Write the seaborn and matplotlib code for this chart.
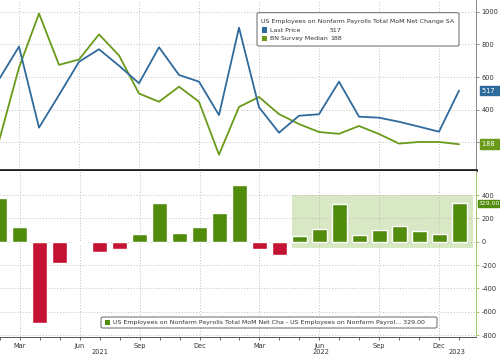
import numpy as np
import pandas as pd
import matplotlib
matplotlib.use("Agg")
import matplotlib.pyplot as plt
import matplotlib.transforms as mtransforms
from matplotlib.patches import FancyBboxPatch, Rectangle
from matplotlib import font_manager
import seaborn as sns

# ---------------- data ----------------
months = ["2021-02", "2021-03", "2021-04", "2021-05", "2021-06", "2021-07",
          "2021-08", "2021-09", "2021-10", "2021-11", "2021-12", "2022-01",
          "2022-02", "2022-03", "2022-04", "2022-05", "2022-06", "2022-07",
          "2022-08", "2022-09", "2022-10", "2022-11", "2022-12", "2023-01"]
last_price = [586, 787, 290, 490, 694, 771, 670, 562, 783, 613, 572, 367,
              903, 415, 259, 363, 372, 572, 357, 351, 326, 296, 265, 517]
survey_median = [208, 658, 990, 675, 708, 862, 733, 499, 449, 541, 449, 124,
                 417, 478, 373, 312, 263, 252, 300, 251, 192, 202, 202, 188]
net_diff = [378, 129, -700, -185, -14, -91, -63, 63, 334, 72, 123, 243,
            486, -63, -114, 51, 109, 320, 57, 100, 134, 94, 63, 329]
month_tick_labels = ["Mar", "Jun", "Sep", "Dec", "Mar", "Jun", "Sep", "Dec"]
month_tick_keys = ["2021-03", "2021-06", "2021-09", "2021-12",
                   "2022-03", "2022-06", "2022-09", "2022-12"]
year_labels = ["2021", "2022", "2023"]
top_ticks = [200, 400, 600, 800, 1000]
top_tick_labels = ["", "400", "600", "800", "1000"]   # 200 hidden behind the 188 tag
bottom_ticks = [-800, -600, -400, -200, 0, 200, 400]

legend_title = "US Employees on Nonfarm Payrolls Total MoM Net Change SA"
series_names = ["Last Price", "BN Survey Median"]
bar_legend = ("US Employees on Nonfarm Payrolls Total MoM Net Cha - "
              "US Employees on Nonfarm Payrol... 329.00")

# ---------------- style ----------------
sns.set_theme(style="white")
avail = {f.name for f in font_manager.fontManager.ttflist}
if "Liberation Sans Narrow" in avail:
    FAM = ["Liberation Sans Narrow", "DejaVu Sans"]
    FS = 5.6
    LFS = 5.3
else:
    FAM = ["DejaVu Sans"]
    FS = 4.8
    LFS = 4.5
plt.rcParams["font.family"] = FAM

BLUE = "#2f6a9c"
GREEN_LINE = "#6a9a1a"
GREEN_BAR = "#518b0c"
RED_BAR = "#c41232"
LIGHT = "#d9e8c4"
GRID = "#b8b8b8"
TXT = "#333333"

W, H = 500, 355
fig = plt.figure(figsize=(W / 100, H / 100), dpi=100)
fig.patch.set_facecolor("white")

def fx(px):
    return px / W

def fy(py):
    return 1 - py / H

ax_top = fig.add_axes([0, fy(170), fx(476), fy(0) - fy(170)])
ax_bot = fig.add_axes([0, fy(337), fx(476), fy(171) - fy(337)])

df = pd.DataFrame({"month": months, "pos": np.arange(len(months)),
                   "last": last_price, "survey": survey_median,
                   "diff": net_diff})
df["sign"] = np.where(df["diff"] >= 0, "pos", "neg")
tick_pos = [months.index(k) for k in month_tick_keys]

XL = (0.05, 23.85)

# ---------------- top panel ----------------
sns.lineplot(data=df, x="pos", y="survey", ax=ax_top, color=GREEN_LINE, lw=1.3)
sns.lineplot(data=df, x="pos", y="last", ax=ax_top, color=BLUE, lw=1.3)
ax_top.set_xlim(*XL)
ax_top.set_ylim(30, 1073)
ax_top.set_xlabel("")
ax_top.set_ylabel("")
ax_top.set_xticks(tick_pos)
ax_top.set_xticklabels([])
ax_top.tick_params(axis="x", length=0)
ax_top.yaxis.tick_right()
ax_top.set_yticks(top_ticks)
ax_top.set_yticklabels(top_tick_labels, fontsize=FS, color=TXT)
ax_top.tick_params(axis="y", length=2.5, width=0.6, color="#777777", pad=1.5)
ax_top.grid(True, color=GRID, ls=(0, (1.2, 2.2)), lw=0.6)
for s in ["top", "left"]:
    ax_top.spines[s].set_visible(False)
ax_top.spines["right"].set_color("#777777")
ax_top.spines["right"].set_linewidth(0.6)
ax_top.spines["bottom"].set_color("#222222")
ax_top.spines["bottom"].set_linewidth(2.0)

# ---------------- bottom panel ----------------
ax_bot.add_patch(Rectangle((14.65, -50), 23.7 - 14.65, 450, facecolor=LIGHT,
                           edgecolor="none", zorder=0.5))
sns.barplot(data=df, x="pos", y="diff", hue="sign", ax=ax_bot,
            palette={"pos": GREEN_BAR, "neg": RED_BAR}, native_scale=True,
            width=0.75, dodge=False, legend=False, saturation=1, zorder=2)
ax_bot.set_xlim(*XL)
ax_bot.set_ylim(-817, 606)
ax_bot.set_xlabel("")
ax_bot.set_ylabel("")
ax_bot.set_xticks(tick_pos)
ax_bot.set_xticklabels(month_tick_labels, fontsize=FS, color=TXT)
ax_bot.set_xticks(np.arange(0, 24), minor=True)
ax_bot.tick_params(axis="x", which="both", length=2.5, width=0.6,
                   color="#555555", pad=1.5, bottom=True)
ax_bot.yaxis.tick_right()
ax_bot.set_yticks(bottom_ticks)
ax_bot.set_yticklabels([str(t) for t in bottom_ticks], fontsize=FS, color=TXT)
ax_bot.tick_params(axis="y", length=2.5, width=0.6, color="#8fb85a", pad=1.5)
ax_bot.grid(True, which="major", color=GRID, ls=(0, (1.2, 2.2)), lw=0.6)
ax_bot.set_axisbelow(True)
for s in ["top", "left"]:
    ax_bot.spines[s].set_visible(False)
ax_bot.spines["right"].set_color("#9cc46a")
ax_bot.spines["right"].set_linewidth(0.7)
ax_bot.spines["bottom"].set_color("#555555")
ax_bot.spines["bottom"].set_linewidth(0.7)

# year labels
year_pos = [5.0, 16.1, 22.9]
trans = mtransforms.blended_transform_factory(ax_bot.transData, fig.transFigure)
for yl, xp in zip(year_labels, year_pos):
    ax_bot.text(xp, fy(352), yl, transform=trans, ha="center", va="center",
                fontsize=FS, color=TXT, clip_on=False)

# ---------------- legends (manual) ----------------
def box(x0, y0, x1, y1):
    p = FancyBboxPatch((fx(x0), fy(y1)), fx(x1) - fx(x0), fy(y0) - fy(y1),
                       boxstyle="round,pad=0,rounding_size=0.004",
                       transform=fig.transFigure, facecolor="white",
                       edgecolor="#666666", lw=0.7, zorder=5)
    fig.patches.append(p)

def square(x0, yc, color, size=5.5):
    p = Rectangle((fx(x0), fy(yc + size / 2)), fx(size), size / H,
                  transform=fig.transFigure, facecolor=color, edgecolor="none",
                  zorder=6)
    fig.patches.append(p)

box(257, 12.7, 459, 46)
fig.text(fx(261), fy(21), legend_title, fontsize=LFS, color=TXT,
         ha="left", va="center", zorder=7)
square(261.5, 30, BLUE)
square(261.5, 38.3, GREEN_LINE)
fig.text(fx(269.5), fy(30), series_names[0], fontsize=LFS, color=TXT,
         ha="left", va="center", zorder=7)
fig.text(fx(269.5), fy(38.3), series_names[1], fontsize=LFS, color=TXT,
         ha="left", va="center", zorder=7)
fig.text(fx(330), fy(30), str(last_price[-1]), fontsize=LFS, color=TXT,
         ha="left", va="center", zorder=7)
fig.text(fx(330), fy(38.3), str(survey_median[-1]), fontsize=LFS, color=TXT,
         ha="left", va="center", zorder=7)

box(101, 317, 437, 328)
square(105, 322.5, GREEN_BAR, size=5)
fig.text(fx(113), fy(322.5), bar_legend, fontsize=LFS, color=TXT,
         ha="left", va="center", zorder=7)

# ---------------- right-side value tags ----------------
def tag(ax, val, text, color, fs, x=1.012, pad=0.28):
    t = mtransforms.blended_transform_factory(ax.transAxes, ax.transData)
    ax.text(x, val, text, transform=t, ha="left", va="center",
            fontsize=fs, color="white", clip_on=False, zorder=8,
            bbox=dict(boxstyle=f"square,pad={pad}", facecolor=color,
                      edgecolor=color))

tag(ax_top, last_price[-1], str(last_price[-1]) + "  ", BLUE, FS)
tag(ax_top, survey_median[-1], str(survey_median[-1]) + "  ", GREEN_LINE, FS)
tag(ax_bot, net_diff[-1], f"{net_diff[-1]:.2f}", GREEN_BAR, FS - 0.4,
    x=1.006, pad=0.15)

fig.savefig("out.png", dpi=100, facecolor="white")
